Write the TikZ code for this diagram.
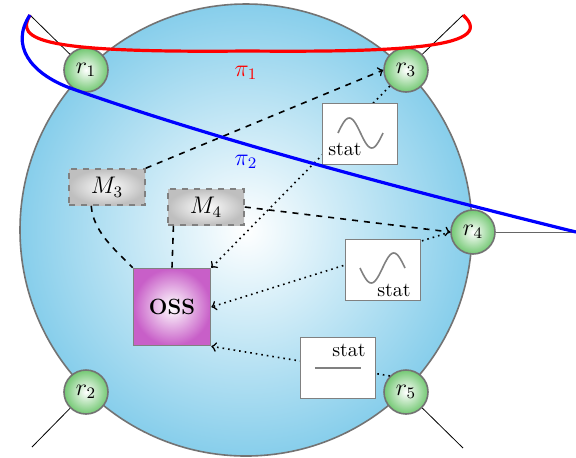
\documentclass[tikz,border=0pt]{standalone}
\usepackage{tikz}

\definecolor{skyfill}{RGB}{135,206,235}
\definecolor{routergreen}{RGB}{115,200,115}
\definecolor{ossfill}{RGB}{200,95,200}

\begin{document}
\begin{tikzpicture}[
    x=0.5pt, y=-0.5pt,
    ball/.style={circle, draw=gray!90!black, thick, inner color=white, outer color=skyfill, minimum size=226pt},
    router/.style={circle, draw=gray!90!black, thick, inner color=white, outer color=routergreen, minimum size=22pt, inner sep=0pt, font=\large},
    mgr/.style={draw=gray, thick, dashed, inner color=white, outer color=gray!50, minimum width=38pt, minimum height=18pt, font=\large},
    oss/.style={draw=gray, thick, inner color=white, outer color=ossfill, minimum size=38.5pt, font=\bfseries\fontsize{11}{13}\selectfont},
    statbox/.style={draw=gray, fill=white, semithick, minimum width=37.5pt, minimum height=30.5pt},
    wave/.style={draw=gray, thick},
    link/.style={draw, thin},
    ctrl/.style={draw, thick, dashed},
    mon/.style={draw, thick, dotted},
    route/.style={draw, ultra thick}
]
\useasboundingbox (0,0) rectangle (576,457);

\node[ball] (net) at (246,230) {};

\node[router] (r1) at (86,70) {$r_1$};
\node[router] (r2) at (86,392) {$r_2$};
\node[router] (r3) at (406,70) {$r_3$};
\node[router] (r4) at (473,232) {$r_4$};
\node[router] (r5) at (406,392) {$r_5$};

\coordinate (e1) at (30,15);
\coordinate (e2) at (32,447);
\coordinate (e3) at (463,15);
\coordinate (e4) at (576,232);
\coordinate (e5) at (463,448);

\draw[link] (r1) -- (e1);
\draw[link] (r2) -- (e2);
\draw[link] (r3) -- (e3);
\draw[link, gray!80!black] (r4) -- (e4);
\draw[link] (r5) -- (e5);

\node[mgr] (M3) at (107,187) {$M_3$};
\node[mgr] (M4) at (206,207) {$M_4$};
\node[oss] (OSS) at (172,307) {OSS};

% control
\draw[ctrl, ->] (M3.north east) -- (r3.west);
\draw[ctrl] (M3.-130) .. controls +(2,25) and +(-20,-20) .. (OSS.north west);
\draw[ctrl] (M4.-150) -- (OSS.north);
\draw[ctrl, ->] (M4.east) -- (r4.west);

% monitoring
\draw[mon, ->] (r3.south west) -- (OSS.north east);
\draw[mon, ->] (r4.west) -- (OSS.east);
\draw[mon, ->] (r5.north west) -- (OSS.south east);

\node[statbox] (s1) at (360,134) {};
\node[statbox] (s2) at (383,270) {};
\node[statbox] (s3) at (338,368) {};
\draw[wave, shift={(338,133)}] plot[domain=0:360, samples=41] ({\x/8}, {-15*sin(\x)});
\draw[wave, shift={(360,268)}] plot[domain=0:360, samples=41] ({\x/8}, {15*sin(\x)});
\draw[wave] (s3.west) ++(15,0) -- ++(46,0);
\node (t1) at (345,149) {stat};
\node (t2) at (394,290) {stat};
\node (t3) at (349,350) {stat};

% paths
\draw[route, red] (e1) .. controls (15,40) and (40,53) .. (246,51) .. controls (380,52) and (502,50) .. (e3);
\draw[route, blue] (e1) .. controls (10,45) and (30,73) .. (70,88) .. controls (220,141) and (406,190) .. (e4);
\node[red, font=\large] (pi1) at (246,73) {$\pi_1$};
\node[blue, font=\large] (pi2) at (246,162) {$\pi_2$};

\end{tikzpicture}
\end{document}
